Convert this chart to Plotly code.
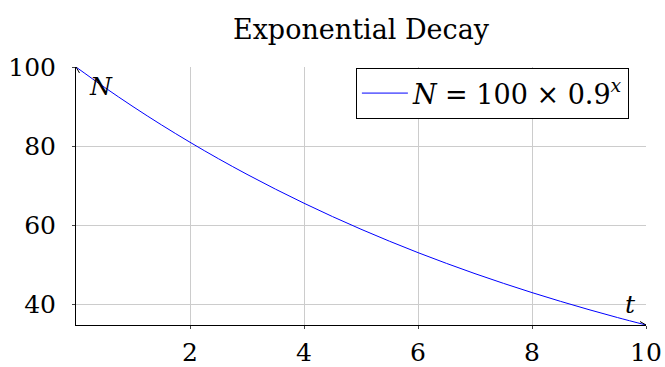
import plotly.graph_objects as go

# Population N sampled every half unit of t
t_vals = [0.0, 0.5, 1.0, 1.5, 2.0, 2.5, 3.0, 3.5, 4.0, 4.5, 5.0,
          5.5, 6.0, 6.5, 7.0, 7.5, 8.0, 8.5, 9.0, 9.5, 10.0]
n_vals = [100.0, 94.87, 90.0, 85.38, 81.0, 76.84, 72.9, 69.16, 65.61, 62.24, 59.05,
          56.02, 53.14, 50.42, 47.83, 45.38, 43.05, 40.84, 38.74, 36.75, 34.87]

x_ticks = [2, 4, 6, 8, 10]
y_ticks = [40, 60, 80, 100]

FONT = "DejaVu Serif"
x_min, x_max = min(t_vals), max(t_vals)
y_min, y_max = min(n_vals), max(n_vals)

fig = go.Figure()
fig.add_trace(go.Scatter(
    x=t_vals, y=n_vals, mode="lines", line_shape="spline",
    line=dict(color="#0000ff", width=1),
    name="<i>N</i> = 100 × 0.9<sup><i>x</i></sup>",
))

axis_common = dict(
    showgrid=True, gridcolor="#cccccc", gridwidth=1,
    showline=True, linecolor="black", linewidth=1,
    zeroline=False, ticks="outside", ticklen=3, tickcolor="#444",
    automargin=False,
    tickfont=dict(family=FONT, size=25, color="black"),
)

fig.update_xaxes(range=[x_min, x_max], tickvals=x_ticks, ticklabelstandoff=2,
                 **axis_common)
fig.update_yaxes(range=[y_min, y_max], tickvals=y_ticks, ticklabelstandoff=11,
                 **axis_common)

# arrow heads at the ends of the axis lines
arrow = dict(type="path", line=dict(color="black", width=1), layer="above",
             xref="x", yref="y", xsizemode="pixel", ysizemode="pixel")
fig.add_shape(path="M -6 3.5 L 0 0 L -6 -3.5", xanchor=x_max, yanchor=y_min, **arrow)
fig.add_shape(path="M -3.5 -6 L 0 0 L 3.5 -6", xanchor=x_min, yanchor=y_max, **arrow)

# axis labels
fig.add_annotation(x=0.44, y=95.0, text="<i>N</i>", showarrow=False,
                   font=dict(family=FONT, size=25, color="black"),
                   xanchor="center", yanchor="middle")
fig.add_annotation(x=9.72, y=40.0, text="<i>t</i>", showarrow=False,
                   font=dict(family=FONT, size=25, color="black"),
                   xanchor="center", yanchor="middle")

fig.update_layout(
    width=665, height=367,
    margin=dict(l=76, r=19, t=67, b=42),
    paper_bgcolor="white", plot_bgcolor="white",
    title=dict(text="Exponential Decay", x=0.5, xref="paper",
               y=1 - 30 / 367, yref="container", yanchor="middle",
               font=dict(family=FONT, size=27, color="black")),
    showlegend=True,
    legend=dict(x=0.97, y=0.996, xanchor="right", yanchor="top",
                bgcolor="white", bordercolor="black", borderwidth=1,
                itemwidth=46,
                font=dict(family=FONT, size=27, color="black")),
)

fig.write_html("out.html")
